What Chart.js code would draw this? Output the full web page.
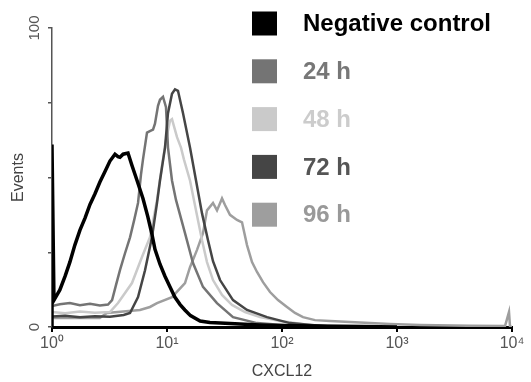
<!DOCTYPE html>
<html>
<head>
<meta charset="utf-8">
<script src="https://cdn.jsdelivr.net/npm/chart.js@4.4.1/dist/chart.umd.min.js"></script>
<style>
  html, body { margin: 0; padding: 0; background: #fff; }
  canvas { display: block; }
</style>
</head>
<body>
<canvas id="hist" width="531" height="382"></canvas>
<script>
// legend order
const seriesNames = ['Negative control', '24 h', '48 h', '72 h', '96 h'];
const seriesColors = ['#000000', '#747474', '#cacaca', '#454545', '#9e9e9e'];
const legendTextColors = ['#000000', '#777777', '#cccccc', '#555555', '#999999'];

// CXCL12 fluorescence (x) and events (y)
const negX = [1, 1, 1.04, 1.17, 1.3, 1.43, 1.58, 1.75, 1.94, 2.14, 2.36, 2.61, 2.89, 3.19, 3.53, 3.75, 3.9, 4.15, 4.58, 4.96, 5.49, 6.18, 6.8, 7.4, 7.86, 8.69, 9.6, 10.6, 11.7, 13, 14.3, 16, 19.4, 23.6, 29, 43, 64, 96, 200, 500, 1000];
const negY = [0, 61, 9, 12.4, 17, 21.7, 27.4, 32.4, 36.5, 41, 44.5, 48.5, 52, 55.5, 57.8, 57, 56.8, 57.8, 58.2, 54, 49, 43, 37, 31, 26, 21, 17, 13.5, 10, 7.5, 5.7, 3.8, 2, 1.5, 1.3, 1, 0.7, 0.5, 0.3, 0.2, 0];

const h24X = [1, 1.17, 1.43, 1.75, 2.14, 2.61, 3.07, 3.33, 3.6, 3.9, 4.3, 4.77, 5.2, 5.6, 5.94, 6.18, 6.7, 7.1, 7.56, 7.86, 8.35, 8.69, 9.23, 9.8, 10.2, 11.05, 11.97, 14.34, 16.83, 20.56, 27.2, 37.5, 60.6, 100, 200];
const h24Y = [7, 7.6, 8, 7.3, 7.8, 7.2, 7.5, 9, 14, 19, 24.5, 30, 36, 41.5, 51, 56, 65, 65.5, 66, 68, 74, 76, 77, 73.5, 60, 49, 42.5, 31.4, 21.4, 13.4, 8, 3.3, 1.3, 0.7, 0];

const h48X = [1, 1.3, 1.75, 2.36, 3.19, 3.75, 4.96, 6.06, 7.11, 8.19, 9.05, 9.8, 10.62, 11.05, 12.22, 13.23, 14.05, 15.85, 17.88, 20.16, 22.27, 25.12, 30.09, 36.75, 47.69, 64.4, 96.1, 150, 250];
const h48Y = [5, 4.6, 5.2, 4.8, 5, 8, 14.7, 23.4, 30, 42.5, 54, 62.5, 69, 69.5, 63.5, 60, 56, 49, 39, 29, 21.7, 15.7, 10.7, 7.4, 5, 3.3, 2, 1, 0];

const h72X = [1, 1.3, 1.75, 2.36, 3.19, 4.2, 4.77, 5.6, 6.44, 7.4, 8.19, 8.69, 9.61, 10.2, 11.05, 11.74, 12.46, 13.78, 15.85, 17.88, 20.16, 22.73, 25.12, 28.91, 37.49, 49.63, 74.07, 117.4, 180, 300];
const h72Y = [3.5, 3.8, 3.3, 3.6, 3.4, 4, 4.7, 10, 19, 30, 41.5, 49, 60, 71.5, 78, 79.5, 79, 71.5, 60, 49, 38, 29, 22, 15.7, 9, 5.7, 3.3, 1.3, 0.7, 0];

const h96X = [1, 1.06, 2.6, 3.0, 5.82, 7.11, 8.19, 11.05, 14.34, 15.85, 18.24, 20.56, 22.27, 25.12, 27.22, 30.09, 31.94, 35.3, 40.62, 44.9, 49.63, 54.86, 60.63, 68.38, 78.65, 92.3, 110.5, 129.7, 152.3, 193.6, 261.5, 390.3, 582.5, 869.4, 1585, 4313, 8694, 9417, 9608, 10000];
const h96Y = [3, 3, 3, 4.7, 5.7, 6.7, 8, 10, 14.7, 20, 25.8, 31.4, 39, 41.5, 39, 43, 40.8, 37.5, 35.8, 35, 27.4, 21.7, 18.4, 15, 11.7, 9, 6.7, 4.7, 3.3, 2.3, 2, 1.7, 1.3, 1, 0.7, 0.4, 0.3, 5, 0.3, 0];

const xTickValues = [1, 10, 100, 1000, 10000];
const xTickLabels = ['10⁰', '10¹', '10²', '10³', '10⁴'];
const yTickValues = [0, 25, 50, 75, 100];
const yTickLabels = ['0', '', '', '', '100'];

const pts = (xs, ys) => xs.map((x, i) => ({ x: x, y: ys[i] }));

function line(idx, xs, ys, width) {
    return {
        label: seriesNames[idx],
        data: pts(xs, ys),
        borderColor: seriesColors[idx],
        borderWidth: width,
        pointRadius: 0,
        tension: 0,
        fill: false
    };
}

// custom legend: filled squares + coloured bold labels, top right
const squareLegend = {
    id: 'squareLegend',
    afterDraw(chart) {
        const ctx = chart.ctx;
        ctx.save();
        ctx.font = 'bold 24px "Liberation Sans", Arial, sans-serif';
        ctx.textBaseline = 'middle';
        seriesNames.forEach((name, i) => {
            const cy = 23.5 + i * 47.8;
            ctx.fillStyle = seriesColors[i];
            ctx.fillRect(252, cy - 12, 25, 24);
            ctx.fillStyle = legendTextColors[i];
            ctx.fillText(name, 303, cy + 1);
        });
        ctx.restore();
    }
};

Chart.defaults.font.family = '"Liberation Sans", Arial, sans-serif';

new Chart(document.getElementById('hist'), {
    type: 'line',
    data: {
        // black drawn on top
        datasets: [
            line(0, negX, negY, 3.5),
            line(3, h72X, h72Y, 2.5),
            line(1, h24X, h24Y, 2.5),
            line(2, h48X, h48Y, 2.5),
            line(4, h96X, h96Y, 2.5)
        ]
    },
    options: {
        responsive: false,
        animation: false,
        layout: { padding: { top: 28, right: 19, left: 0, bottom: 0 } },
        plugins: {
            legend: { display: false },
            tooltip: { enabled: false }
        },
        scales: {
            x: {
                type: 'logarithmic',
                min: 1,
                max: 10000,
                afterBuildTicks: s => { s.ticks = xTickValues.map(v => ({ value: v })); },
                afterFit: s => { s.height = 55; },
                border: { color: '#000', width: 3 },
                grid: { drawOnChartArea: false, tickLength: 5, color: '#000', lineWidth: 2 },
                ticks: {
                    autoSkip: false,
                    maxRotation: 0,
                    padding: 2,
                    color: '#555',
                    font: { size: 16 },
                    callback: v => xTickLabels[xTickValues.indexOf(v)]
                },
                title: {
                    display: true,
                    text: 'CXCL12',
                    color: '#444',
                    font: { size: 16 },
                    padding: { top: 0, bottom: 1 }
                }
            },
            y: {
                min: 0,
                max: 100,
                afterBuildTicks: s => { s.ticks = yTickValues.map(v => ({ value: v })); },
                afterFit: s => { s.width = 52; },
                border: { color: '#555', width: 1.5 },
                grid: { drawOnChartArea: false, tickLength: 4, color: '#555', lineWidth: 1.5 },
                ticks: {
                    minRotation: 90,
                    maxRotation: 90,
                    crossAlign: 'center',
                    padding: 1,
                    color: '#555',
                    font: { size: 15 },
                    callback: v => yTickLabels[yTickValues.indexOf(v)]
                },
                title: {
                    display: true,
                    text: 'Events',
                    color: '#444',
                    font: { size: 16 },
                    padding: { top: 9, bottom: 0 }
                }
            }
        }
    },
    plugins: [squareLegend]
});
</script>
</body>
</html>
